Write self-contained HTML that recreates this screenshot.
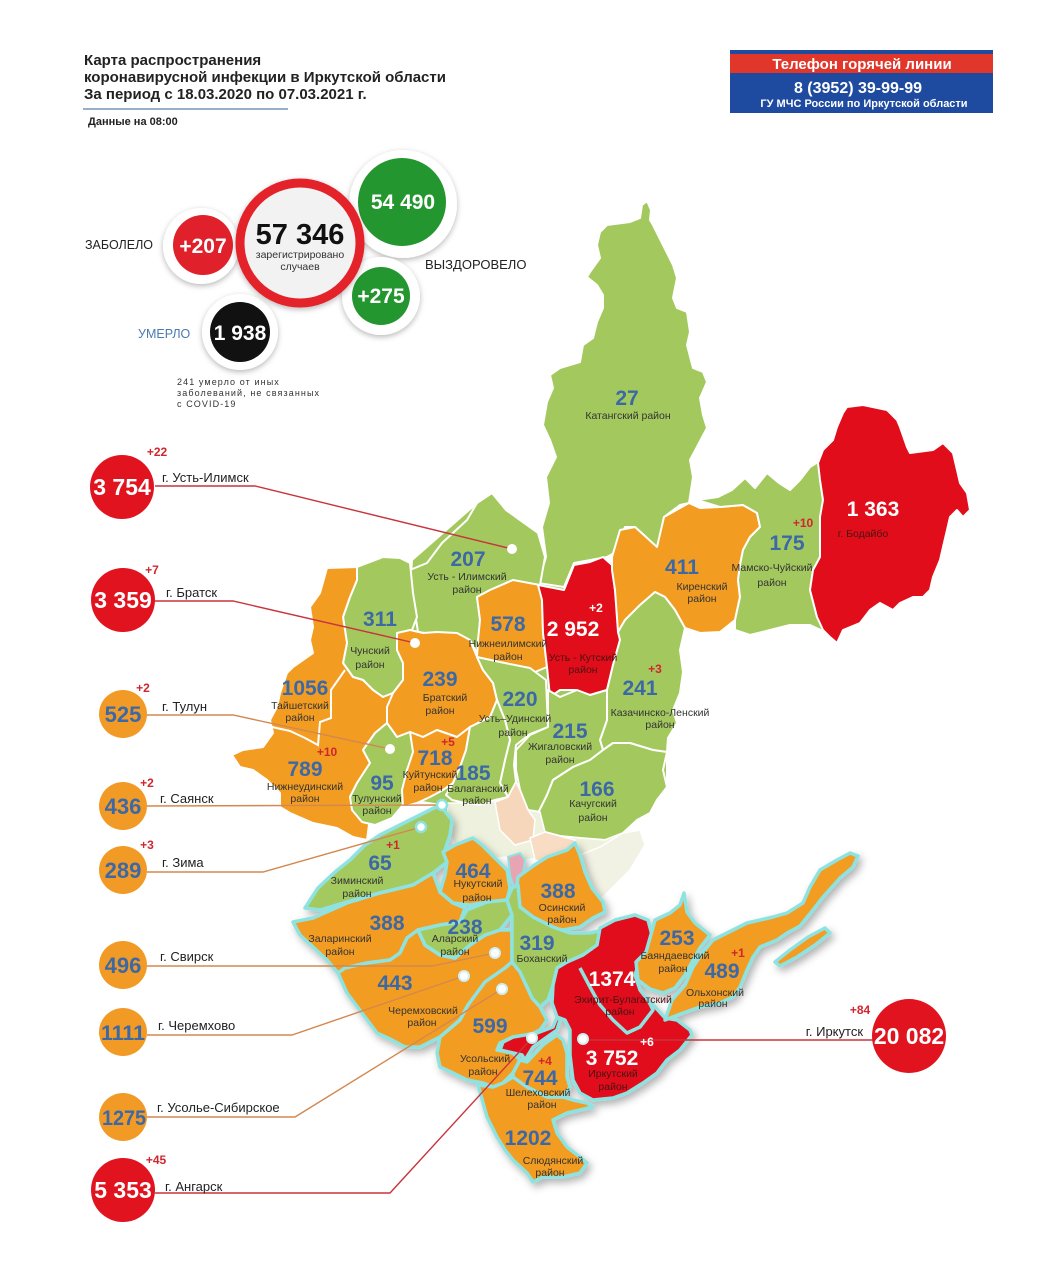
<!DOCTYPE html>
<html><head><meta charset="utf-8"><style>
html,body{margin:0;padding:0;background:#fff;}
svg{display:block;}
text{font-family:"Liberation Sans",Arial,sans-serif;}
.n{font-weight:bold;font-size:21px;fill:#3c69a6;text-anchor:middle;}
.nw{font-weight:bold;font-size:21px;fill:#fff;text-anchor:middle;}
.l{font-size:10.5px;fill:#333;text-anchor:middle;}
.ld{font-size:10.5px;fill:#4a1212;text-anchor:middle;}
.p{font-weight:bold;font-size:12px;fill:#d0262e;text-anchor:middle;}
.pw{font-weight:bold;font-size:12px;fill:#fff;text-anchor:middle;}
.c{font-size:13px;fill:#222;}
.g{fill:#a3c95e;stroke:#fff;stroke-width:2;stroke-linejoin:round;}
.o{fill:#f39c22;stroke:#fff;stroke-width:2;stroke-linejoin:round;}
.r{fill:#e20d1b;stroke:#fff;stroke-width:2;stroke-linejoin:round;}
.sg{fill:#a3c95e;stroke:#8ee3e1;stroke-width:3.5;stroke-linejoin:round;}
.so{fill:#f39c22;stroke:#8ee3e1;stroke-width:3.5;stroke-linejoin:round;}
.sr{fill:#e20d1b;stroke:#8ee3e1;stroke-width:3.5;stroke-linejoin:round;}
.lr{fill:none;stroke:#c8343c;stroke-width:1.4;}
.lo{fill:none;stroke:#d4884f;stroke-width:1.4;}
</style></head><body>
<svg width="1050" height="1280" viewBox="0 0 1050 1280" xmlns="http://www.w3.org/2000/svg">
<defs>
<filter id="hs" x="-30%" y="-30%" width="160%" height="160%"><feDropShadow dx="0" dy="2" stdDeviation="3" flood-color="#000" flood-opacity="0.28"/></filter>
<filter id="sh" x="-10%" y="-10%" width="130%" height="130%"><feDropShadow dx="3" dy="4" stdDeviation="4" flood-color="#000" flood-opacity="0.3"/></filter>
</defs>
<rect width="1050" height="1280" fill="#fff"/>

<!-- Title -->
<text x="84" y="65" font-size="15" font-weight="bold" fill="#222">Карта распространения</text>
<text x="84" y="82" font-size="15" font-weight="bold" fill="#222">коронавирусной инфекции в Иркутской области</text>
<text x="84" y="99" font-size="15" font-weight="bold" fill="#222">За период с 18.03.2020 по 07.03.2021 г.</text>
<line x1="83" y1="109" x2="288" y2="109" stroke="#5b7fa8" stroke-width="1.2"/>
<text x="88" y="125" font-size="11" font-weight="bold" fill="#222">Данные на 08:00</text>

<!-- Phone box -->
<rect x="730" y="50" width="263" height="63" fill="#1e4aa0"/>
<rect x="730" y="54" width="263" height="19" fill="#e0372a"/>
<text x="862" y="69" font-size="15" font-weight="bold" fill="#fff" text-anchor="middle">Телефон горячей линии</text>
<text x="858" y="93" font-size="16" font-weight="bold" fill="#fff" text-anchor="middle">8 (3952) 39-99-99</text>
<text x="864" y="107" font-size="11" font-weight="bold" fill="#fff" text-anchor="middle">ГУ МЧС России по Иркутской области</text>

<!-- Top stats -->
<circle cx="403" cy="204" r="54" fill="#fff" filter="url(#hs)"/>
<circle cx="402" cy="202" r="44" fill="#24962f"/>
<circle cx="201" cy="246" r="38" fill="#fff" filter="url(#hs)"/>
<circle cx="203" cy="245" r="30" fill="#e0202a"/>
<circle cx="381" cy="296" r="39" fill="#fff" filter="url(#hs)"/>
<circle cx="381" cy="296" r="29" fill="#24962f"/>
<circle cx="240" cy="332" r="38" fill="#fff" filter="url(#hs)"/>
<circle cx="240" cy="332" r="30" fill="#111"/>
<circle cx="300" cy="243" r="60" fill="#f2f2f2" stroke="#e3242b" stroke-width="9" filter="url(#hs)"/>
<text x="300" y="244" font-size="29" font-weight="bold" fill="#111" text-anchor="middle">57 346</text>
<text x="300" y="258" font-size="10.5" fill="#333" text-anchor="middle">зарегистрировано</text>
<text x="300" y="270" font-size="10.5" fill="#333" text-anchor="middle">случаев</text>
<text x="403" y="209" font-size="21" font-weight="bold" fill="#fff" text-anchor="middle">54 490</text>
<text x="203" y="253" font-size="21" font-weight="bold" fill="#fff" text-anchor="middle">+207</text>
<text x="381" y="303" font-size="21" font-weight="bold" fill="#fff" text-anchor="middle">+275</text>
<text x="240" y="340" font-size="21" font-weight="bold" fill="#fff" text-anchor="middle">1 938</text>
<text x="85" y="249" font-size="12.5" fill="#222">ЗАБОЛЕЛО</text>
<text x="425" y="269" font-size="13" fill="#222">ВЫЗДОРОВЕЛО</text>
<text x="138" y="338" font-size="12.5" fill="#4a7ab0">УМЕРЛО</text>
<text x="177" y="385" font-size="9" fill="#333" letter-spacing="1.1">241  умерло от иных</text>
<text x="177" y="396" font-size="9" fill="#333" letter-spacing="1.1">заболеваний, не связанных</text>
<text x="177" y="407" font-size="9" fill="#333" letter-spacing="1.1">с COVID-19</text>

<!-- Northern / western map -->
<g>
<polygon class="g" points="412,560 477,503 540,533 540,583 614,560 620,640 683,672 667,753 667,787 623,833 600,847 545,835 505,820 455,830 440,805 410,800 400,740"/>
<polygon class="g" points="640,218 642,205 647,201 651,210 650,220 653,225 663,245 673,265 677,278 673,298 677,308 687,312 690,332 687,345 693,368 703,372 707,382 700,398 703,415 707,428 698,445 690,460 693,477 689,503 680,505 664,517 657,550 646,537 635,527 625,527 614,553 607,557 574,563 564,587 538,583 546,557 542,527 549,503 546,477 556,457 550,440 543,425 547,402 553,388 550,375 560,368 580,362 583,345 593,338 597,322 603,308 603,295 597,285 587,277 590,272 600,258 597,245 600,232 607,225 630,222"/>
<polygon class="g" points="477,503 492,493 506,510 520,520 538,533 545,557 540,585 525,583 513,580 490,590 477,597 480,620 478,655 470,640 445,636 418,632 413,600 410,570 427,563 442,543 467,520"/>
<polygon class="g" points="357,567 383,557 400,558 410,563 413,593 417,617 412,630 403,637 397,650 403,663 403,680 393,693 383,697 373,690 363,680 353,677 343,663 347,643 343,617 350,597 357,580"/>
<polygon class="o" points="327,568 357,567 357,580 350,597 343,617 347,643 343,663 353,677 363,680 373,690 383,697 393,693 387,710 387,723 375,733 363,750 370,763 357,783 350,797 370,817 367,840 353,837 337,828 313,823 290,813 280,807 280,793 267,780 253,770 240,767 232,755 243,750 263,747 273,733 270,720 277,707 280,693 287,673 293,667 313,653 310,640 313,627 310,607 320,593"/>
<polyline points="272,727 290,731 305,738 318,745 320,722 331,718 331,690 345,670" fill="none" stroke="#fff" stroke-width="2"/>
<polygon class="o" points="397,633 410,630 423,633 437,632 457,633 470,640 477,657 483,670 493,683 497,700 490,717 470,727 457,737 437,730 423,737 410,732 397,737 387,723 387,707 393,693 403,680 403,663 397,650"/>
<polygon class="g" points="375,733 387,723 397,737 410,732 416,752 410,770 407,790 402,806 392,818 375,825 362,822 352,810 350,797 357,783 370,763 363,750"/>
<polygon class="o" points="410,732 423,737 437,730 457,737 470,727 466,750 460,767 453,783 443,790 430,797 417,803 403,807 402,790 407,770 413,752"/>
<polygon class="o" points="477,597 490,590 513,580 540,585 542,600 543,633 547,667 535,672 520,667 500,663 485,672 477,657 478,640 480,620"/>
<polygon class="g" points="477,657 500,662 530,668 546,680 548,727 530,734 516,745 514,765 516,782 508,797 500,783 505,760 510,740 505,720 497,700 493,683 483,670"/>
<polygon class="g" points="470,727 490,717 497,700 505,720 510,740 505,760 500,783 508,797 495,800 480,805 465,803 452,800 446,795 453,783 460,767 466,750"/>
<polygon class="r" points="538,585 564,590 574,565 590,562 603,557 612,565 615,590 620,640 613,665 607,690 590,695 575,690 560,690 550,697 547,667 543,633 542,600"/>
<polygon class="o" points="612,557 620,530 635,527 646,537 657,547 664,517 689,503 700,508 720,507 743,505 757,513 760,527 750,537 743,550 740,565 738,580 740,597 735,620 720,632 700,633 685,628 675,610 665,597 655,592 640,605 625,620 618,632 615,590 612,570"/>
<polygon class="g" points="697,500 718,497 732,490 745,478 755,488 767,473 779,483 790,490 800,480 810,467 818,462 823,450 820,480 823,500 820,520 820,557 813,570 810,590 817,617 825,632 810,625 790,625 770,630 750,635 735,630 735,620 740,597 738,580 740,565 743,550 750,537 760,527 757,513 743,505 720,507"/>
<polygon class="r" points="847,407 863,405 887,410 897,420 900,427 907,447 910,453 933,450 943,443 953,453 957,470 960,483 967,493 970,510 963,517 957,510 950,517 947,530 943,547 940,560 933,577 930,590 923,597 913,597 900,603 893,610 880,603 870,610 860,623 843,630 837,643 830,637 823,630 817,617 810,590 813,570 820,557 820,533 820,517 823,500 820,480 818,463 823,450 833,440 837,427 843,413"/>
<polygon class="g" points="618,632 625,620 640,605 655,592 665,597 675,610 685,628 680,650 683,672 680,693 673,710 677,723 668,738 667,752 653,750 630,743 613,743 603,750 600,740 607,720 607,690 613,665 620,640"/>
<polygon class="g" points="548,690 560,697 577,690 590,695 607,690 607,720 600,740 603,750 590,760 573,767 553,780 547,795 540,812 528,810 520,790 516,770 516,750 530,735 548,727"/>
<polygon class="g" points="603,750 613,743 630,743 653,750 667,752 663,770 667,787 657,800 650,813 637,820 623,833 605,840 580,838 560,836 545,832 537,815 547,795 553,780 573,767 590,760"/>
<!-- pale Ust-Orda zone -->
<polygon fill="#eef1dd" stroke="#fff" stroke-width="1.5" points="447,803 465,803 480,805 495,800 508,797 516,782 520,790 528,810 540,812 545,832 560,836 580,838 605,840 623,833 630,845 620,865 600,880 585,870 575,850 560,855 525,860 508,857 495,858 482,845 473,838 455,845 450,835"/>
<polygon fill="#f7d7bb" stroke="#fff" stroke-width="1.5" points="495,802 508,797 516,782 520,790 528,810 535,820 533,840 515,845 500,830"/>
<polygon fill="#f8dcc4" stroke="#fff" stroke-width="1.5" points="530,838 545,832 560,836 575,840 568,862 555,866 535,860"/>
<polygon fill="#f1f2e4" stroke="#fff" stroke-width="1.5" points="600,847 623,833 640,830 645,845 630,870 610,890 600,900 590,885 585,870 580,855"/>
</g>

<!-- Southern block -->
<g filter="url(#sh)">
<polygon class="sg" points="305,908 318,888 335,872 350,860 365,845 380,835 400,825 420,815 440,805 452,820 450,835 445,850 447,862 433,873 413,885 380,893 347,902 320,910"/>
<polygon class="so" points="293,922 313,918 347,903 380,893 413,885 433,873 440,892 453,903 465,908 460,922 440,925 418,930 407,938 400,953 390,960 367,963 345,968 338,973 327,960 313,947 300,935"/>
<polygon class="so" points="443,852 455,845 473,838 482,845 495,858 507,870 510,888 507,900 487,902 470,905 453,903 440,892 445,875 447,862"/>
<polygon fill="#e9a4b4" stroke="#8ee3e1" stroke-width="2" points="508,857 520,853 525,860 522,880 515,890 510,875"/>
<polygon class="so" points="338,973 345,968 367,963 390,960 400,953 407,938 418,930 425,945 440,955 455,958 470,945 485,935 500,930 512,930 512,962 505,968 485,982 468,1005 460,1020 440,1037 420,1047 405,1047 392,1040 377,1033 362,1013 347,993"/>
<polygon class="sg" points="418,930 440,925 460,922 467,910 487,902 507,900 512,915 500,930 485,935 470,945 455,958 440,955 425,945"/>
<polygon class="so" points="518,877 533,866 547,857 567,850 575,843 580,855 585,872 592,888 603,902 605,912 593,918 580,927 563,930 547,927 533,917 520,907 516,893"/>
<polygon class="sg" points="507,900 512,888 518,885 520,907 533,917 553,927 570,933 590,933 603,930 597,945 583,955 567,962 557,968 553,985 548,1000 540,1007 532,998 526,985 518,972 512,962 512,930 512,915"/>
<polygon class="so" points="512,962 520,972 526,985 532,998 540,1007 547,1020 540,1030 530,1035 513,1037 500,1043 497,1050 513,1053 520,1060 513,1073 503,1083 493,1087 483,1083 467,1080 453,1073 440,1067 437,1053 440,1037 460,1020 468,1005 485,982 505,968"/>
<polygon class="so" points="478,1085 493,1087 503,1083 513,1077 527,1087 547,1097 563,1097 573,1100 587,1103 593,1107 580,1110 567,1113 553,1120 557,1133 567,1147 580,1157 587,1163 580,1173 563,1177 543,1177 533,1182 527,1173 513,1160 505,1150 497,1137 487,1117"/>
<polygon class="so" points="520,1060 527,1062 543,1045 557,1035 563,1040 567,1053 567,1077 570,1087 563,1097 547,1097 527,1087 513,1077 513,1073"/>
<polygon class="sr" points="560,1020 557,1030 547,1037 533,1047 525,1060 522,1055 513,1053 500,1050 503,1042 513,1037 537,1033 553,1027 557,1017"/>
<polygon class="sr" points="600,928 615,920 635,915 648,920 652,935 650,947 640,960 635,975 640,990 648,1000 656,1008 665,1018 677,1020 690,1030 692,1035 680,1050 667,1060 657,1073 643,1083 627,1093 613,1098 593,1100 580,1093 573,1080 570,1055 570,1030 565,1020 557,1017 552,1003 553,985 557,968 567,962 583,955 597,945"/>
<polyline points="580,968 590,987 600,1005 613,1020 627,1033 640,1027 653,1010 648,1000" fill="none" stroke="#8ee3e1" stroke-width="3.5" stroke-linejoin="round"/>
<polygon class="so" points="655,920 670,913 680,905 684,893 687,912 695,923 710,935 700,948 692,962 685,975 675,988 663,993 650,989 638,980 636,962 646,952 650,938"/>
<polygon class="so" points="665,1020 672,1000 685,985 693,967 703,952 713,940 727,933 747,923 773,917 787,913 803,903 810,887 820,870 837,860 850,853 858,856 853,867 840,878 823,897 813,910 800,926 787,933 777,940 760,947 753,957 747,970 740,987 733,997 720,1003 700,1007 683,1013"/>
<polygon class="so" points="775,962 790,950 808,937 825,928 830,933 815,945 797,957 780,966"/>
</g>

<!-- Leader lines -->
<polyline class="lr" points="155,486 255,486 512,549"/>
<polyline class="lr" points="155,601 233,601 415,643"/>
<polyline class="lo" points="147,715 233,715 390,749"/>
<polyline class="lo" points="147,806 442,805"/>
<polyline class="lo" points="147,872 263,872 421,827"/>
<polyline class="lo" points="147,966 432,966 495,953"/>
<polyline class="lo" points="147,1035 292,1035 464,976"/>
<polyline class="lo" points="147,1117 295,1117 502,989"/>
<polyline class="lr" points="155,1193 390,1193 532,1038"/>
<polyline class="lr" points="583,1040 873,1040"/>

<!-- Dots -->
<g fill="#fff">
<circle cx="512" cy="549" r="5"/>
<circle cx="415" cy="643" r="5"/>
<circle cx="390" cy="749" r="5"/>
<circle cx="442" cy="805" r="5" stroke="#8ee3e1" stroke-width="2.5"/>
<circle cx="421" cy="827" r="5" stroke="#8ee3e1" stroke-width="2.5"/>
<circle cx="495" cy="953" r="5" stroke="#cfeff0" stroke-width="2"/>
<circle cx="464" cy="976" r="5" stroke="#cfeff0" stroke-width="2"/>
<circle cx="502" cy="989" r="5" stroke="#cfeff0" stroke-width="2"/>
<circle cx="532" cy="1038" r="5" stroke="#cfeff0" stroke-width="2"/>
<circle cx="583" cy="1039" r="5" stroke="#cfeff0" stroke-width="2"/>
</g>

<!-- District labels -->
<text class="n" x="627" y="405">27</text><text class="l" x="628" y="419">Катангский район</text>
<text class="n" x="468" y="566">207</text><text class="l" x="467" y="580">Усть - Илимский</text><text class="l" x="467" y="593">район</text>
<text class="n" x="380" y="626">311</text><text class="l" x="370" y="654">Чунский</text><text class="l" x="370" y="668">район</text>
<text class="n" x="508" y="631">578</text><text class="l" x="508" y="647">Нижнеилимский</text><text class="l" x="508" y="660">район</text>
<text class="pw" x="596" y="612">+2</text><text class="nw" x="573" y="636">2 952</text><text class="ld" x="583" y="661">Усть - Кутский</text><text class="ld" x="583" y="673">район</text>
<text class="n" x="682" y="574">411</text><text class="l" x="702" y="590">Киренский</text><text class="l" x="702" y="602">район</text>
<text class="p" x="803" y="527">+10</text><text class="n" x="787" y="550">175</text><text class="l" x="772" y="571">Мамско-Чуйский</text><text class="l" x="772" y="586">район</text>
<text class="nw" x="873" y="516" font-size="22">1 363</text><text class="ld" x="863" y="537" font-size="10">г. Бодайбо</text>
<text class="n" x="305" y="695">1056</text><text class="l" x="300" y="709">Тайшетский</text><text class="l" x="300" y="721">район</text>
<text class="n" x="440" y="686">239</text><text class="l" x="445" y="701">Братский</text><text class="l" x="440" y="714">район</text>
<text class="n" x="520" y="706">220</text><text class="l" x="515" y="722">Усть–Удинский</text><text class="l" x="513" y="736">район</text>
<text class="n" x="570" y="738">215</text><text class="l" x="560" y="750">Жигаловский</text><text class="l" x="560" y="763">район</text>
<text class="p" x="655" y="673">+3</text><text class="n" x="640" y="695">241</text><text class="l" x="660" y="716">Казачинско-Ленский</text><text class="l" x="660" y="728">район</text>
<text class="p" x="327" y="756">+10</text><text class="n" x="305" y="776">789</text><text class="l" x="305" y="790">Нижнеудинский</text><text class="l" x="305" y="802">район</text>
<text class="p" x="448" y="746">+5</text><text class="n" x="435" y="765">718</text><text class="l" x="430" y="778">Куйтунский</text><text class="l" x="428" y="791">район</text>
<text class="n" x="473" y="780">185</text><text class="l" x="478" y="792">Балаганский</text><text class="l" x="477" y="804">район</text>
<text class="n" x="382" y="790">95</text><text class="l" x="377" y="802">Тулунский</text><text class="l" x="377" y="814">район</text>
<text class="n" x="597" y="796">166</text><text class="l" x="593" y="807">Качугский</text><text class="l" x="593" y="821">район</text>
<text class="p" x="393" y="849">+1</text><text class="n" x="380" y="870">65</text><text class="l" x="357" y="884">Зиминский</text><text class="l" x="357" y="897">район</text>
<text class="n" x="473" y="878">464</text><text class="l" x="478" y="887">Нукутский</text><text class="l" x="477" y="901">район</text>
<text class="n" x="558" y="898">388</text><text class="l" x="562" y="911">Осинский</text><text class="l" x="562" y="923">район</text>
<text class="n" x="387" y="930">388</text><text class="l" x="340" y="942">Заларинский</text><text class="l" x="340" y="955">район</text>
<text class="n" x="465" y="934">238</text><text class="l" x="455" y="942">Аларский</text><text class="l" x="455" y="955">район</text>
<text class="n" x="537" y="950">319</text><text class="l" x="542" y="962">Боханский</text>
<text class="nw" x="612" y="986">1374</text><text class="ld" x="623" y="1003">Эхирит-Булагатский</text><text class="ld" x="620" y="1015">район</text>
<text class="n" x="395" y="990">443</text><text class="l" x="423" y="1014">Черемховский</text><text class="l" x="422" y="1026">район</text>
<text class="n" x="490" y="1033">599</text><text class="l" x="485" y="1062">Усольский</text><text class="l" x="483" y="1075">район</text>
<text class="p" x="545" y="1065">+4</text><text class="n" x="540" y="1085">744</text><text class="l" x="538" y="1096">Шелеховский</text><text class="l" x="542" y="1108">район</text>
<text class="pw" x="647" y="1046">+6</text><text class="nw" x="612" y="1065">3 752</text><text class="ld" x="613" y="1077">Иркутский</text><text class="ld" x="613" y="1090">район</text>
<text class="n" x="528" y="1145">1202</text><text class="l" x="553" y="1164">Слюдянский</text><text class="l" x="550" y="1176">район</text>
<text class="n" x="677" y="945">253</text><text class="l" x="675" y="959">Баяндаевский</text><text class="l" x="673" y="972">район</text>
<text class="p" x="738" y="957">+1</text><text class="n" x="722" y="978">489</text><text class="l" x="715" y="996">Ольхонский</text><text class="l" x="713" y="1007">район</text>

<!-- City circles -->
<circle cx="122" cy="487" r="32" fill="#e0131f"/>
<text x="122" y="495" font-size="23" font-weight="bold" fill="#fff" text-anchor="middle">3 754</text>
<text class="p" x="157" y="456">+22</text>
<text class="c" x="162" y="482">г. Усть-Илимск</text>

<circle cx="123" cy="600" r="32" fill="#e0131f"/>
<text x="123" y="608" font-size="23" font-weight="bold" fill="#fff" text-anchor="middle">3 359</text>
<text class="p" x="152" y="574">+7</text>
<text class="c" x="166" y="597">г. Братск</text>

<circle cx="123" cy="714" r="24" fill="#f29a26"/>
<text x="123" y="722" font-size="22" font-weight="bold" fill="#3c69a6" text-anchor="middle">525</text>
<text class="p" x="143" y="692">+2</text>
<text class="c" x="162" y="711">г. Тулун</text>

<circle cx="123" cy="806" r="24" fill="#f29a26"/>
<text x="123" y="814" font-size="22" font-weight="bold" fill="#3c69a6" text-anchor="middle">436</text>
<text class="p" x="147" y="787">+2</text>
<text class="c" x="160" y="803">г. Саянск</text>

<circle cx="123" cy="870" r="24" fill="#f29a26"/>
<text x="123" y="878" font-size="22" font-weight="bold" fill="#3c69a6" text-anchor="middle">289</text>
<text class="p" x="147" y="849">+3</text>
<text class="c" x="162" y="867">г. Зима</text>

<circle cx="123" cy="965" r="24" fill="#f29a26"/>
<text x="123" y="973" font-size="22" font-weight="bold" fill="#3c69a6" text-anchor="middle">496</text>
<text class="c" x="160" y="961">г. Свирск</text>

<circle cx="123" cy="1032" r="24" fill="#f29a26"/>
<text x="123" y="1040" font-size="21" font-weight="bold" fill="#3c69a6" text-anchor="middle" textLength="44" lengthAdjust="spacingAndGlyphs">1111</text>
<text class="c" x="158" y="1030">г. Черемхово</text>

<circle cx="123" cy="1117" r="24" fill="#f29a26"/>
<text x="124" y="1125" font-size="21" font-weight="bold" fill="#3c69a6" text-anchor="middle" textLength="44" lengthAdjust="spacingAndGlyphs">1275</text>
<text class="c" x="157" y="1112">г. Усолье-Сибирское</text>

<circle cx="123" cy="1190" r="32" fill="#e0131f"/>
<text x="123" y="1198" font-size="23" font-weight="bold" fill="#fff" text-anchor="middle">5 353</text>
<text class="p" x="156" y="1164">+45</text>
<text class="c" x="165" y="1191">г. Ангарск</text>

<circle cx="909" cy="1036" r="37" fill="#e0131f"/>
<text x="909" y="1044" font-size="23" font-weight="bold" fill="#fff" text-anchor="middle">20 082</text>
<text class="p" x="860" y="1014">+84</text>
<text class="c" x="863" y="1036" text-anchor="end">г. Иркутск</text>
</svg>
</body></html>
